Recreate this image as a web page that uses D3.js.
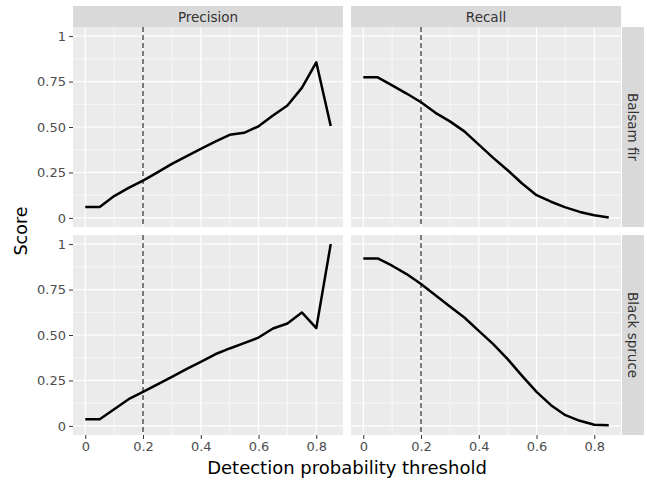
<!DOCTYPE html>
<html>
<head>
<meta charset="utf-8">
<script src="https://cdn.jsdelivr.net/npm/d3@7"></script>
<style>
  body { margin: 0; background: #fff; }
  svg { font-family: "DejaVu Sans", sans-serif; }
</style>
</head>
<body>
<svg id="chart"></svg>
<script>
// DATA
const thresholds = [0, 0.05, 0.1, 0.15, 0.2, 0.25, 0.3, 0.35, 0.4, 0.45, 0.5, 0.55, 0.6, 0.65, 0.7, 0.75, 0.8, 0.85];
const metrics = ["Precision", "Recall"];
const species = ["Balsam fir", "Black spruce"];

const precisionBalsam = [0.06, 0.06, 0.12, 0.165, 0.205, 0.25, 0.297, 0.339, 0.38, 0.42, 0.457, 0.468, 0.504, 0.563, 0.618, 0.715, 0.856, 0.505];
const recallBalsam    = [0.773, 0.773, 0.729, 0.684, 0.636, 0.578, 0.531, 0.476, 0.403, 0.33, 0.262, 0.189, 0.125, 0.089, 0.058, 0.033, 0.015, 0.002];
const precisionSpruce = [0.037, 0.037, 0.092, 0.147, 0.187, 0.229, 0.27, 0.312, 0.352, 0.394, 0.426, 0.455, 0.486, 0.536, 0.563, 0.624, 0.538, 1.0];
const recallSpruce    = [0.921, 0.921, 0.881, 0.835, 0.78, 0.719, 0.657, 0.596, 0.523, 0.45, 0.367, 0.275, 0.187, 0.114, 0.059, 0.028, 0.006, 0.004];

const xTicks = [0, 0.2, 0.4, 0.6, 0.8];
const xMinor = [0.1, 0.3, 0.5, 0.7];
const yTicks = [0, 0.25, 0.5, 0.75, 1];
const yTickLabels = ["0", "0.25", "0.50", "0.75", "1"];
const yMinor = [0.125, 0.375, 0.625, 0.875];
const cutoff = 0.2;

const seriesByPanel = {
  "Precision|Balsam fir": precisionBalsam,
  "Recall|Balsam fir": recallBalsam,
  "Precision|Black spruce": precisionSpruce,
  "Recall|Black spruce": recallSpruce
};

// LAYOUT
const width = 648, height = 480;
const colLeft = [73, 351];
const panelW = 270;
const rowTop = [27, 235];
const panelH = 200;
const stripH = 21;
const stripW = 22;

const svg = d3.select("#chart").attr("width", width).attr("height", height);

const xScales = colLeft.map(l => d3.scaleLinear().domain([-0.0425, 0.8925]).range([l, l + panelW]));
const yScales = rowTop.map(t => d3.scaleLinear().domain([-0.05, 1.05]).range([t + panelH, t]));

// column strips
metrics.forEach((m, ci) => {
  svg.append("rect")
    .attr("x", colLeft[ci]).attr("y", rowTop[0] - stripH)
    .attr("width", panelW).attr("height", stripH)
    .attr("fill", "#d9d9d9");
  svg.append("text")
    .attr("x", colLeft[ci] + panelW / 2).attr("y", rowTop[0] - stripH / 2)
    .attr("text-anchor", "middle").attr("dominant-baseline", "central")
    .attr("font-size", 13.5).attr("fill", "#333")
    .text(m);
});

// row strips
species.forEach((s, ri) => {
  const sx = colLeft[1] + panelW + 1;
  svg.append("rect")
    .attr("x", sx).attr("y", rowTop[ri])
    .attr("width", stripW).attr("height", panelH)
    .attr("fill", "#d9d9d9");
  svg.append("text")
    .attr("transform", `translate(${sx + stripW / 2},${rowTop[ri] + panelH / 2}) rotate(90)`)
    .attr("text-anchor", "middle").attr("dominant-baseline", "central")
    .attr("font-size", 13.5).attr("fill", "#333")
    .text(s);
});

const line = (x, y) => d3.line().x((d, i) => x(thresholds[i])).y(d => y(d));

species.forEach((s, ri) => {
  metrics.forEach((m, ci) => {
    const x = xScales[ci], y = yScales[ri];
    const g = svg.append("g");

    g.append("rect")
      .attr("x", colLeft[ci]).attr("y", rowTop[ri])
      .attr("width", panelW).attr("height", panelH)
      .attr("fill", "#ebebeb");

    // minor grid
    g.selectAll(".xminor").data(xMinor).join("line")
      .attr("x1", d => x(d)).attr("x2", d => x(d))
      .attr("y1", rowTop[ri]).attr("y2", rowTop[ri] + panelH)
      .attr("stroke", "#fff").attr("stroke-width", 0.6);
    g.selectAll(".yminor").data(yMinor).join("line")
      .attr("y1", d => y(d)).attr("y2", d => y(d))
      .attr("x1", colLeft[ci]).attr("x2", colLeft[ci] + panelW)
      .attr("stroke", "#fff").attr("stroke-width", 0.6);

    // major grid
    g.selectAll(".xmajor").data(xTicks).join("line")
      .attr("x1", d => x(d)).attr("x2", d => x(d))
      .attr("y1", rowTop[ri]).attr("y2", rowTop[ri] + panelH)
      .attr("stroke", "#fff").attr("stroke-width", 1.2);
    g.selectAll(".ymajor").data(yTicks).join("line")
      .attr("y1", d => y(d)).attr("y2", d => y(d))
      .attr("x1", colLeft[ci]).attr("x2", colLeft[ci] + panelW)
      .attr("stroke", "#fff").attr("stroke-width", 1.2);

    // cutoff
    g.append("line")
      .attr("x1", x(cutoff)).attr("x2", x(cutoff))
      .attr("y1", rowTop[ri]).attr("y2", rowTop[ri] + panelH)
      .attr("stroke", "#000").attr("stroke-width", 1)
      .attr("stroke-dasharray", "5,3");

    // series
    g.append("path")
      .datum(seriesByPanel[m + "|" + s])
      .attr("d", line(x, y))
      .attr("fill", "none").attr("stroke", "#000")
      .attr("stroke-width", 2.5).attr("stroke-linejoin", "round");

    // y axis on left column
    if (ci === 0) {
      const ax = svg.append("g")
        .attr("transform", `translate(${colLeft[0]},0)`)
        .call(d3.axisLeft(y).tickValues(yTicks).tickFormat((d, i) => yTickLabels[i]).tickSize(4).tickPadding(3));
      ax.select(".domain").remove();
      ax.selectAll(".tick line").attr("stroke", "#333").attr("stroke-width", 1);
      ax.selectAll(".tick text").attr("fill", "#4d4d4d").attr("font-size", 13)
        .attr("font-family", "DejaVu Sans, sans-serif");
    }

    // x axis on bottom row
    if (ri === 1) {
      const ax = svg.append("g")
        .attr("transform", `translate(0,${rowTop[1] + panelH})`)
        .call(d3.axisBottom(x).tickValues(xTicks).tickFormat(d3.format("~g")).tickSize(4).tickPadding(3));
      ax.select(".domain").remove();
      ax.selectAll(".tick line").attr("stroke", "#333").attr("stroke-width", 1);
      ax.selectAll(".tick text").attr("fill", "#4d4d4d").attr("font-size", 13)
        .attr("font-family", "DejaVu Sans, sans-serif");
    }
  });
});

// axis titles
svg.append("text")
  .attr("x", (colLeft[0] + colLeft[1] + panelW) / 2).attr("y", 474)
  .attr("text-anchor", "middle").attr("font-size", 18).attr("fill", "#000")
  .text("Detection probability threshold");

svg.append("text")
  .attr("transform", `translate(27,${(rowTop[0] + rowTop[1] + panelH) / 2}) rotate(-90)`)
  .attr("text-anchor", "middle").attr("font-size", 17.5).attr("fill", "#000")
  .text("Score");
</script>
</body>
</html>
